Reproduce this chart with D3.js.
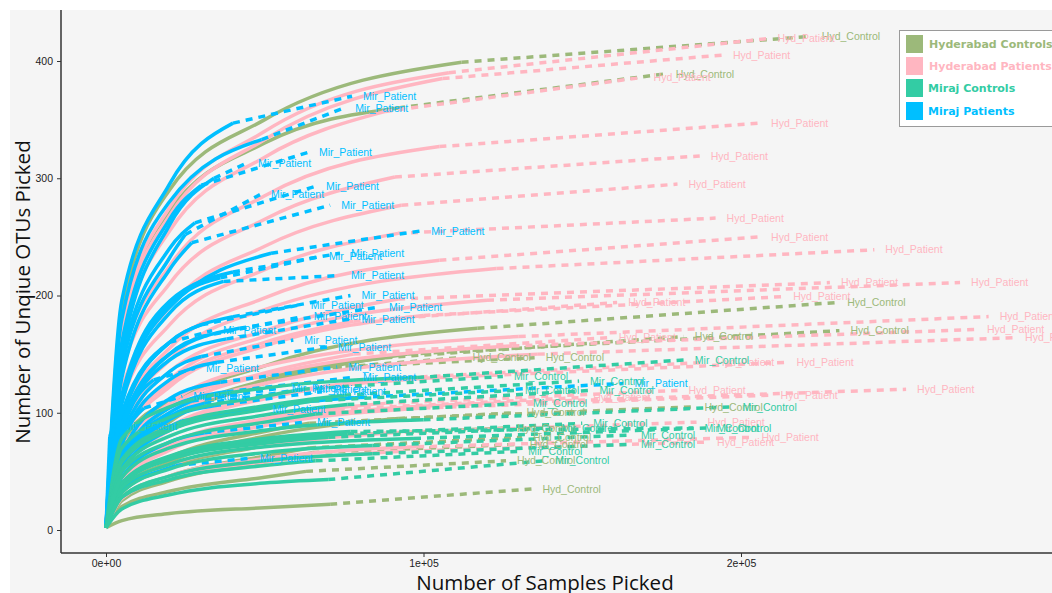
<!DOCTYPE html>
<html>
<head>
<meta charset="utf-8">
<script src="https://cdn.jsdelivr.net/npm/d3@7"></script>
<style>
  body { margin: 0; background: #ffffff; }
  svg { display: block; }
</style>
</head>
<body>
<svg id="chart" width="1052" height="593"></svg>
<script>
// One row per sample:
// [OTUs at 5k, OTUs at 20k, OTUs at 50k, sampled depth, OTUs at depth, extrapolated depth, extrapolated OTUs]
const hydControls = [
  [188, 290, 350, 112000, 399, 222000, 421],
  [175, 272, 330, 92000, 360, 176000, 389],
  [62, 105, 140, 117000, 172, 230000, 194],
  [55, 92, 125, 95000, 150, 231000, 170],
  [58, 95, 128, 88000, 147, 182000, 165],
  [75, 110, 132, 55000, 135, 112000, 147],
  [70, 108, 132, 68000, 138, 135000, 147],
  [35, 58, 80, 92000, 95, 185000, 105],
  [38, 62, 84, 64000, 91, 129000, 100],
  [32, 53, 72, 62000, 79, 126000, 87],
  [28, 46, 63, 64000, 70, 131000, 79],
  [25, 42, 58, 65000, 66, 130000, 73],
  [20, 33, 45, 63000, 50, 126000, 59],
  [8, 14, 19, 70600, 22, 134000, 35]
];

const hydPatients = [
  [175, 275, 340, 108000, 390, 208000, 419],
  [170, 268, 333, 106000, 385, 194000, 405],
  [160, 255, 318, 88000, 357, 169000, 386],
  [145, 225, 285, 105000, 327, 206000, 347],
  [135, 210, 265, 91000, 301, 187000, 319],
  [120, 190, 242, 93000, 277, 180000, 295],
  [110, 175, 222, 92000, 253, 192000, 266],
  [95, 155, 198, 105000, 230, 206000, 250],
  [90, 145, 188, 123000, 223, 242000, 239],
  [85, 135, 170, 92000, 197, 228000, 211],
  [80, 128, 165, 120000, 196, 269000, 211],
  [75, 122, 157, 100000, 183, 213000, 199],
  [80, 125, 160, 78000, 178, 161000, 194],
  [65, 105, 134, 78000, 150, 158000, 164],
  [68, 108, 140, 130000, 165, 278000, 182],
  [62, 100, 132, 128000, 157, 274000, 171],
  [58, 95, 125, 136000, 150, 286000, 164],
  [55, 88, 113, 95000, 130, 189000, 143],
  [52, 85, 112, 105000, 130, 214000, 143],
  [42, 70, 92, 120000, 108, 252000, 120],
  [40, 68, 89, 100000, 104, 209000, 115],
  [45, 73, 95, 88000, 108, 180000, 119],
  [45, 72, 93, 73000, 103, 150000, 113],
  [33, 55, 72, 90000, 83, 186000, 92],
  [28, 46, 61, 98000, 71, 203000, 79],
  [27, 44, 58, 92000, 67, 189000, 75]
];

const mirControls = [
  [78, 105, 121, 98000, 130, 182000, 145],
  [70, 96, 114, 62000, 120, 125000, 131],
  [60, 88, 106, 75000, 115, 149000, 127],
  [58, 85, 103, 65000, 110, 128500, 119],
  [52, 80, 98, 76000, 107, 152000, 119],
  [50, 75, 92, 66000, 99, 131000, 108],
  [40, 62, 76, 76000, 82, 150000, 91],
  [38, 60, 74, 70000, 79, 140000, 87],
  [40, 63, 78, 77000, 84, 185000, 87],
  [36, 56, 71, 97000, 78, 189000, 87],
  [45, 70, 85, 100000, 94, 197000, 105],
  [32, 52, 66, 84000, 72, 165000, 81],
  [28, 46, 59, 84000, 65, 165000, 73],
  [28, 43, 55, 66000, 59, 129500, 67],
  [18, 30, 40, 70000, 43, 138000, 59]
];

const mirPatients = [
  [196, 295, null, 40000, 347, 77500, 370],
  [180, 280, null, 49000, 333, 75000, 360],
  [160, 265, null, 30000, 294, 63600, 322],
  [150, 260, null, 34000, 300, 44400, 313],
  [145, 240, null, 28000, 262, 65800, 293],
  [140, 232, null, 25000, 252, 48500, 286],
  [130, 222, null, 27000, 245, 70600, 277],
  [110, 190, null, 52000, 236, 99000, 255],
  [115, 195, null, 40000, 220, 73700, 236],
  [112, 192, null, 36000, 215, 66800, 233],
  [108, 185, null, 37000, 212, 73700, 217],
  [95, 160, null, 40000, 182, 77000, 200],
  [98, 160, null, 30000, 175, 61000, 192],
  [88, 150, null, 42000, 172, 85700, 190],
  [90, 150, null, 30000, 165, 62000, 182],
  [85, 145, null, 38000, 163, 77000, 180],
  [100, null, null, 20000, 160, 33400, 170],
  [80, 135, null, 30000, 148, 59000, 162],
  [75, 128, null, 35000, 143, 69600, 156],
  [85, null, null, 15000, 128, 28000, 138],
  [65, 112, null, 36000, 126, 72800, 139],
  [60, 104, null, 38000, 118, 77500, 130],
  [72, null, null, 12000, 104, 24000, 114],
  [62, 100, null, 27000, 110, 55000, 121],
  [58, 97, null, 31000, 108, 62000, 120],
  [55, 94, null, 34000, 106, 68000, 118],
  [55, 88, null, 24000, 93, 49000, 103],
  [45, 75, null, 31000, 83, 63000, 92],
  [null, null, null, 1200, 80, 2200, 88],
  [35, 53, null, 22000, 55, 45000, 61],
  [50, 85, 105, 80000, 113, 163000, 125]
];

const legendNames = ["Hyderabad Controls", "Hyderabad Patients", "Miraj Controls", "Miraj Patients"];
const sampleTags = ["Hyd_Control", "Hyd_Patient", "Mir_Control", "Mir_Patient"];
const groupColors = ["#9cb97a", "#ffb6c1", "#33cca4", "#00bfff"];
const groupRows = [hydControls, hydPatients, mirControls, mirPatients];
const drawOrder = [0, 1, 3, 2];

const xTicks = [0, 100000, 200000];
const xTickLabels = ["0e+00", "1e+05", "2e+05"];
const yTicks = [0, 100, 200, 300, 400];

const svg = d3.select("#chart");
const W = 1052, H = 593;

// panel background
svg.append("rect").attr("x", 10).attr("y", 10).attr("width", W - 10).attr("height", H - 10)
  .attr("fill", "#f5f5f5");

const x = d3.scaleLinear().domain([0, 200000]).range([106, 741]);
const y = d3.scaleLinear().domain([0, 400]).range([530, 61]);

const plotLeft = 61, plotBottom = 553, plotTop = 10;

const line = d3.line().x(d => x(d[0])).y(d => y(d[1])).curve(d3.curveMonotoneX);

function solidPoints(r) {
  const pts = [[0, 2]];
  if (r[0] != null && r[3] > 5000) pts.push([5000, r[0]]);
  if (r[1] != null && r[3] > 20000) pts.push([20000, r[1]]);
  if (r[2] != null && r[3] > 50000) pts.push([50000, r[2]]);
  pts.push([r[3], r[4]]);
  return pts;
}

const curves = svg.append("g");
drawOrder.forEach(gi => {
  const g = curves.append("g");
  groupRows[gi].forEach(r => {
    g.append("path").attr("d", line(solidPoints(r)))
      .attr("fill", "none").attr("stroke", groupColors[gi]).attr("stroke-width", 3.5);
    g.append("path").attr("d", line([[r[3], r[4]], [r[5], r[6]]]))
      .attr("fill", "none").attr("stroke", groupColors[gi]).attr("stroke-width", 3.5)
      .attr("stroke-dasharray", "7,6");
  });
});

// sample labels at the end of each extrapolation
const labels = svg.append("g")
  .attr("font-family", "'Liberation Sans', Arial, sans-serif").attr("font-size", 10.5);
drawOrder.forEach(gi => {
  groupRows[gi].forEach(r => {
    labels.append("text").attr("x", x(r[5]) + 11).attr("y", y(r[6])).attr("dy", "0.35em")
      .attr("fill", groupColors[gi]).text(sampleTags[gi]);
  });
});

// axes
const axisColor = "#333333";
const yAxis = d3.axisLeft(y).tickValues(yTicks).tickSize(4).tickPadding(4);
const gy = svg.append("g").attr("transform", `translate(${plotLeft},0)`).call(yAxis);
gy.select(".domain").remove();
gy.append("line").attr("x1", 0).attr("x2", 0).attr("y1", plotTop).attr("y2", plotBottom)
  .attr("stroke", axisColor).attr("stroke-width", 1.5);

const xAxis = d3.axisBottom(x).tickValues(xTicks).tickFormat((d, i) => xTickLabels[i])
  .tickSize(4).tickPadding(3);
const gx = svg.append("g").attr("transform", `translate(0,${plotBottom})`).call(xAxis);
gx.select(".domain").remove();
gx.append("line").attr("x1", plotLeft).attr("x2", W).attr("y1", 0).attr("y2", 0)
  .attr("stroke", axisColor).attr("stroke-width", 1.5);

[gx, gy].forEach(g => {
  g.selectAll(".tick line").attr("stroke", axisColor);
  g.selectAll(".tick text").attr("fill", "#222")
    .attr("font-family", "'Liberation Sans', Arial, sans-serif").attr("font-size", 10.5);
});

// axis titles
svg.append("text").attr("x", 545).attr("y", 590).attr("text-anchor", "middle")
  .attr("font-family", "'Open Sans', sans-serif").attr("font-size", 20.5).attr("fill", "#111")
  .text("Number of Samples Picked");
svg.append("text").attr("transform", "translate(30,292) rotate(-90)").attr("text-anchor", "middle")
  .attr("font-family", "'Open Sans', sans-serif").attr("font-size", 20.5).attr("fill", "#111")
  .text("Number of Unqiue OTUs Picked");

// legend
const lg = svg.append("g");
lg.append("rect").attr("x", 899.5).attr("y", 30.5).attr("width", 170).attr("height", 96)
  .attr("fill", "#ffffff").attr("stroke", "#9a9a9a").attr("stroke-width", 1);
const legendY = [44, 66, 88, 111];
legendNames.forEach((name, i) => {
  lg.append("rect").attr("x", 906).attr("y", legendY[i] - 9).attr("width", 17).attr("height", 18)
    .attr("fill", groupColors[i]);
  lg.append("text").attr("x", i < 2 ? 929 : 928).attr("y", legendY[i]).attr("dy", "0.35em")
    .attr("font-family", "'DejaVu Sans', sans-serif").attr("font-weight", "bold")
    .attr("font-size", 11).attr("fill", groupColors[i]).text(name);
});
</script>
</body>
</html>
